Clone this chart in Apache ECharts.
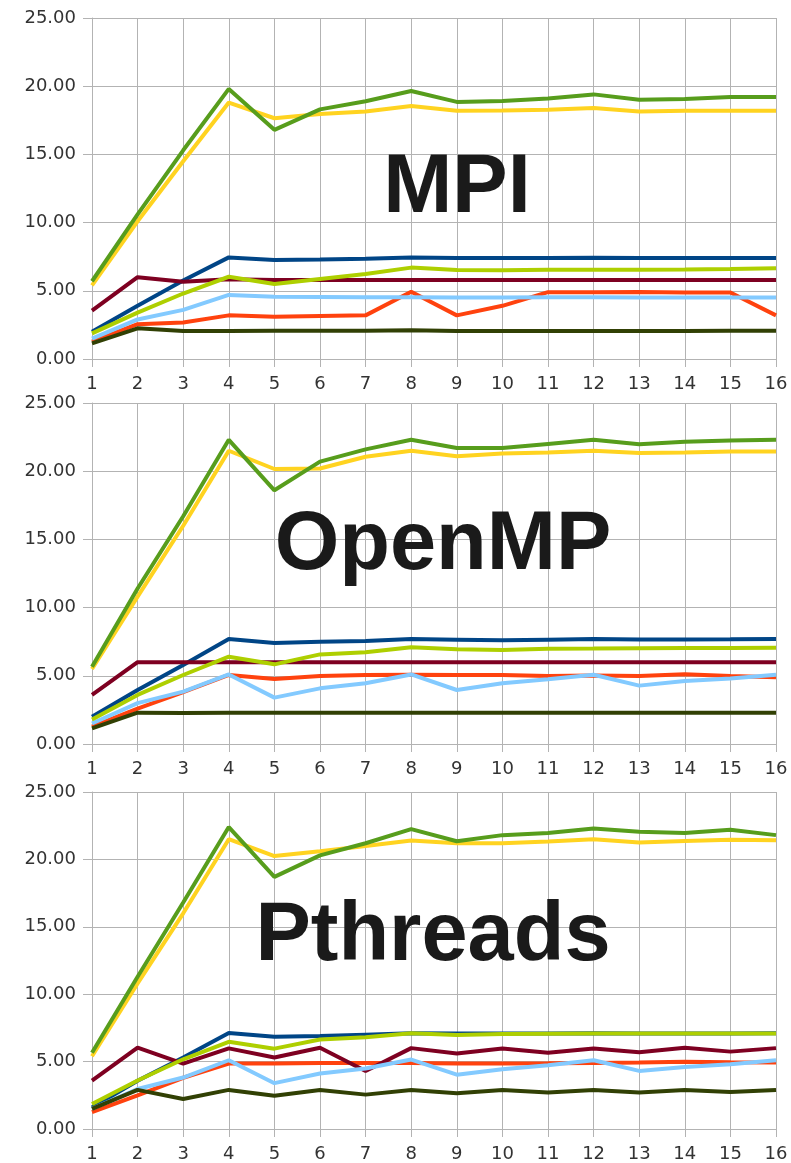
<!DOCTYPE html>
<html>
<head>
<meta charset="utf-8">
<style>
  html, body { margin: 0; padding: 0; background: #fff; }
  #chart { width: 791px; height: 1163px; }
</style>
<script src="https://cdn.jsdelivr.net/npm/echarts@6/dist/echarts.min.js"></script>
</head>
<body>
<div id="chart"></div>
<script>
// x categories (threads)
const categories = ['1', '2', '3', '4', '5', '6', '7', '8', '9', '10', '11', '12', '13', '14', '15', '16']
const panelTitles = ['MPI', 'OpenMP', 'Pthreads']
const seriesColors = ['#004586', '#ff420e', '#ffd320', '#579d1c', '#7e0021', '#83caff', '#314004', '#aecf00']

// MPI
const mpiBlue = [2.0, 3.9, 5.75, 7.45, 7.26, 7.3, 7.35, 7.45, 7.4, 7.4, 7.4, 7.42, 7.4, 7.4, 7.4, 7.4]
const mpiOrange = [1.27, 2.55, 2.68, 3.2, 3.1, 3.15, 3.2, 4.93, 3.2, 3.9, 4.9, 4.9, 4.92, 4.87, 4.87, 3.2]
const mpiYellow = [5.4, 10.1, 14.5, 18.8, 17.65, 17.96, 18.15, 18.55, 18.2, 18.22, 18.28, 18.4, 18.15, 18.2, 18.2, 18.2]
const mpiGreen = [5.7, 10.6, 15.3, 19.8, 16.8, 18.3, 18.9, 19.65, 18.85, 18.92, 19.1, 19.4, 19.0, 19.06, 19.2, 19.2]
const mpiMaroon = [3.55, 6.0, 5.67, 5.84, 5.8, 5.8, 5.8, 5.8, 5.8, 5.8, 5.8, 5.8, 5.8, 5.8, 5.8, 5.8]
const mpiLightBlue = [1.5, 2.9, 3.6, 4.7, 4.57, 4.55, 4.52, 4.52, 4.5, 4.5, 4.52, 4.52, 4.5, 4.5, 4.5, 4.5]
const mpiOlive = [1.15, 2.25, 2.05, 2.06, 2.07, 2.08, 2.08, 2.1, 2.05, 2.05, 2.05, 2.06, 2.05, 2.06, 2.07, 2.07]
const mpiLime = [1.88, 3.4, 4.8, 6.03, 5.5, 5.87, 6.23, 6.7, 6.52, 6.5, 6.55, 6.55, 6.55, 6.57, 6.6, 6.65]

// OpenMP
const ompBlue = [2.0, 3.96, 5.8, 7.7, 7.4, 7.5, 7.55, 7.7, 7.65, 7.6, 7.65, 7.7, 7.67, 7.67, 7.68, 7.7]
const ompOrange = [1.27, 2.6, 3.8, 5.06, 4.77, 4.99, 5.05, 5.08, 5.06, 5.06, 4.98, 5.03, 4.98, 5.12, 4.98, 4.9]
const ompYellow = [5.5, 10.8, 16.0, 21.5, 20.16, 20.2, 21.06, 21.5, 21.1, 21.3, 21.38, 21.5, 21.33, 21.38, 21.45, 21.45]
const ompGreen = [5.67, 11.4, 16.7, 22.3, 18.6, 20.7, 21.6, 22.3, 21.7, 21.7, 22.0, 22.3, 21.97, 22.16, 22.25, 22.3]
const ompMaroon = [3.6, 6.0, 6.0, 6.0, 6.0, 6.0, 6.0, 6.0, 6.0, 6.0, 6.0, 6.0, 6.0, 6.0, 6.0, 6.0]
const ompLightBlue = [1.5, 3.0, 3.84, 5.1, 3.4, 4.08, 4.45, 5.1, 3.96, 4.45, 4.74, 5.08, 4.28, 4.62, 4.81, 5.08]
const ompOlive = [1.15, 2.3, 2.27, 2.3, 2.3, 2.3, 2.3, 2.3, 2.3, 2.3, 2.3, 2.3, 2.3, 2.3, 2.3, 2.3]
const ompLime = [1.8, 3.6, 5.06, 6.4, 5.84, 6.57, 6.72, 7.1, 6.94, 6.9, 6.99, 7.0, 7.02, 7.03, 7.04, 7.05]

// Pthreads
const pthBlue = [1.6, 3.58, 5.3, 7.13, 6.84, 6.9, 7.0, 7.1, 7.08, 7.08, 7.08, 7.1, 7.08, 7.08, 7.08, 7.1]
const pthOrange = [1.25, 2.5, 3.8, 4.85, 4.85, 4.9, 4.9, 4.9, 4.85, 4.85, 4.87, 4.9, 4.93, 4.98, 4.95, 4.93]
const pthYellow = [5.4, 10.8, 16.0, 21.5, 20.25, 20.6, 21.0, 21.4, 21.2, 21.2, 21.33, 21.5, 21.25, 21.37, 21.45, 21.42]
const pthGreen = [5.66, 11.3, 16.8, 22.4, 18.7, 20.3, 21.2, 22.25, 21.35, 21.8, 21.96, 22.3, 22.05, 21.96, 22.2, 21.8]
const pthMaroon = [3.58, 6.03, 4.85, 5.98, 5.3, 6.03, 4.3, 6.0, 5.6, 5.98, 5.66, 5.98, 5.7, 6.03, 5.74, 6.0]
const pthLightBlue = [1.5, 2.97, 3.82, 5.1, 3.4, 4.12, 4.49, 5.15, 4.03, 4.44, 4.73, 5.1, 4.31, 4.6, 4.8, 5.1]
const pthOlive = [1.5, 2.9, 2.23, 2.9, 2.47, 2.9, 2.55, 2.9, 2.65, 2.9, 2.7, 2.9, 2.7, 2.9, 2.75, 2.9]
const pthLime = [1.86, 3.6, 5.17, 6.47, 5.96, 6.64, 6.8, 7.1, 6.97, 7.04, 7.06, 7.08, 7.08, 7.08, 7.08, 7.08]

const panels = [
  [mpiBlue, mpiOrange, mpiYellow, mpiGreen, mpiMaroon, mpiLightBlue, mpiOlive, mpiLime],
  [ompBlue, ompOrange, ompYellow, ompGreen, ompMaroon, ompLightBlue, ompOlive, ompLime],
  [pthBlue, pthOrange, pthYellow, pthGreen, pthMaroon, pthLightBlue, pthOlive, pthLime]
]

const gridLine = '#b3b3b3'
const labelFont = { fontFamily: 'DejaVu Sans', fontSize: 18, color: '#333' }

const grids = [
  { left: 92, right: 15, top: 18, height: 341 },
  { left: 92, right: 15, top: 403, height: 341 },
  { left: 92, right: 15, top: 792, height: 340 }
]

const xAxes = grids.map((g, i) => ({
  type: 'category',
  gridIndex: i,
  data: categories,
  boundaryGap: false,
  axisLine: { lineStyle: { color: gridLine } },
  axisTick: { show: true, length: 8, lineStyle: { color: gridLine } },
  axisLabel: Object.assign({ margin: 16 }, labelFont),
  splitLine: { show: true, lineStyle: { color: gridLine } }
}))

const yAxes = grids.map((g, i) => ({
  type: 'value',
  gridIndex: i,
  min: 0,
  max: 25,
  interval: 5,
  axisLine: { show: true, lineStyle: { color: gridLine } },
  axisTick: { show: true, length: 9, lineStyle: { color: gridLine } },
  axisLabel: Object.assign({ margin: 16, formatter: v => v.toFixed(2) }, labelFont),
  splitLine: { show: true, lineStyle: { color: gridLine } }
}))

const series = []
panels.forEach((lines, i) => {
  lines.forEach((data, k) => {
    series.push({
      type: 'line',
      xAxisIndex: i,
      yAxisIndex: i,
      data: data,
      showSymbol: false,
      color: seriesColors[k],
      lineStyle: { width: 4, color: seriesColors[k] }
    })
  })
})

const titlePos = [[457, 189], [443, 546], [433, 937]]
const graphic = panelTitles.map((t, i) => ({
  type: 'text',
  x: titlePos[i][0],
  y: titlePos[i][1],
  z: 100,
  style: {
    text: t,
    fill: '#1a1a1a',
    font: 'bold 83px "Liberation Sans", Arial, sans-serif',
    textAlign: 'center',
    textVerticalAlign: 'middle'
  }
}))

const chart = echarts.init(document.getElementById('chart'))
chart.setOption({
  animation: false,
  backgroundColor: '#fff',
  grid: grids,
  xAxis: xAxes,
  yAxis: yAxes,
  series: series,
  graphic: graphic
})
</script>
</body>
</html>
